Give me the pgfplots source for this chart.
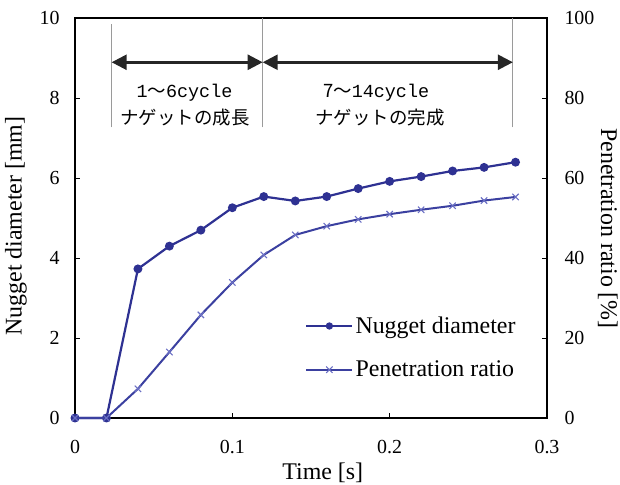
\documentclass[border=0pt]{standalone}
\usepackage{pgfplots}
\pgfplotsset{compat=1.18}
\usepackage{fontspec}
\setmainfont{Liberation Serif}
\newfontfamily\jp{Noto Sans CJK JP}
\newfontfamily\mono{Liberation Mono}
\usetikzlibrary{arrows.meta}
\definecolor{navy}{HTML}{2E3192}
\definecolor{navyb}{HTML}{3B40A0}
\definecolor{markc}{HTML}{6A6FC4}
\definecolor{vline}{HTML}{9A9A9A}
\definecolor{arrowc}{HTML}{262626}

\pgfplotstableread{
t d
0 0
0.02 0
0.04 3.73
0.06 4.30
0.08 4.70
0.10 5.26
0.12 5.54
0.14 5.43
0.16 5.54
0.18 5.74
0.20 5.92
0.22 6.04
0.24 6.18
0.26 6.27
0.28 6.40
}\nugget
\pgfplotstableread{
t p
0 0
0.02 0
0.04 7.3
0.06 16.5
0.08 25.8
0.10 33.9
0.12 40.8
0.14 45.8
0.16 48.0
0.18 49.7
0.20 51.0
0.22 52.1
0.24 53.1
0.26 54.4
0.28 55.3
}\pen

\pgfplotsset{
  common/.style={
    at={(0,0)}, anchor=south west,
    scale only axis, width=472bp, height=399.7bp,
    xmin=0, xmax=0.3,
    tick align=inside, major tick length=5bp,
    every tick/.style={black, line width=1bp},
    axis line style={black, line width=1.6bp},
    tick label style={font=\fontsize{20}{24}\selectfont},
    /pgf/number format/assume math mode=true,
    clip=false,
  }
}

\begin{document}
\begin{tikzpicture}
\useasboundingbox (-75bp,-67bp) rectangle (545bp,418bp);
\begin{axis}[common,
  ymin=0, ymax=10,
  xtick={0,0.1,0.2,0.3}, ytick={0,2,4,6,8,10},
  xtick pos=bottom, ytick pos=left,
  xticklabel style={yshift=-19bp},
  yticklabel style={xshift=-12bp},
  xticklabel={\pgfmathprintnumber[fixed,precision=1]{\tick}},
]
\addplot[navy, line width=2.2bp, mark=*, mark size=3.3bp] table[x=t,y=d] {\nugget};

\draw[vline, line width=1.2bp] (axis cs:0.0233,7.27) -- (axis cs:0.0233,9.85);
\draw[vline, line width=1.2bp] (axis cs:0.1193,7.27) -- (axis cs:0.1193,10);
\draw[vline, line width=1.2bp] (axis cs:0.2783,7.27) -- (axis cs:0.2783,10);
\draw[arrowc, line width=2.5bp, {Triangle[length=15bp,width=15bp]}-{Triangle[length=15bp,width=15bp]}] (axis cs:0.0233,8.9) -- (axis cs:0.1193,8.9);
\draw[arrowc, line width=2.5bp, {Triangle[length=15bp,width=15bp]}-{Triangle[length=15bp,width=15bp]}] (axis cs:0.1193,8.9) -- (axis cs:0.2783,8.9);

\node[anchor=center, inner sep=0pt] at (axis cs:0.0696,8.13) {\fontsize{18.5}{22}\mono 1\jp ～\mono 6cycle};
\node[anchor=center, inner sep=0pt] at (axis cs:0.0699,7.51) {\fontsize{18.5}{22}\jp ナゲットの成長};
\node[anchor=center, inner sep=0pt] at (axis cs:0.1914,8.13) {\fontsize{18.5}{22}\jp 7～\mono 14cycle};
\node[anchor=center, inner sep=0pt] at (axis cs:0.1939,7.51) {\fontsize{18.5}{22}\jp ナゲットの完成};

\node[rotate=90, anchor=center, font=\fontsize{24}{28}\selectfont] at (axis description cs:-0.125,0.48) {Nugget diameter [mm]};
\node[anchor=center, inner sep=0pt, font=\fontsize{24}{28}\selectfont] at (axis description cs:0.525,-0.136) {Time [s]};
\node[rotate=-90, anchor=center, inner sep=0pt, font=\fontsize{24}{28}\selectfont] at (axis description cs:1.129,0.474) {Penetration ratio [\%]};
\end{axis}

\begin{axis}[common,
  ymin=0, ymax=100,
  axis x line=none, axis y line*=right,
  ytick={0,20,40,60,80,100},
  yticklabel style={xshift=14bp},
  legend style={at={(axis description cs:0.4875,0.176)}, anchor=west,
    draw=none, fill=none, font=\fontsize{24}{28}\selectfont,
    row sep=22bp, inner sep=0pt,
    nodes={inner sep=2bp}},
  legend cell align=left,
  legend image code/.code={\draw[mark repeat=2,mark phase=2] plot coordinates {(0bp,0bp) (23bp,0bp) (46bp,0bp)};},
]
\addlegendimage{navy, line width=2.2bp, mark=*, mark size=2.5bp}
\addlegendentry{Nugget diameter}
\addplot[navyb, line width=2bp, mark=x, mark size=4.5bp, mark options={line width=1.1bp, color=markc}] table[x=t,y=p] {\pen};
\addlegendentry{Penetration ratio}
\end{axis}
\end{tikzpicture}
\end{document}
